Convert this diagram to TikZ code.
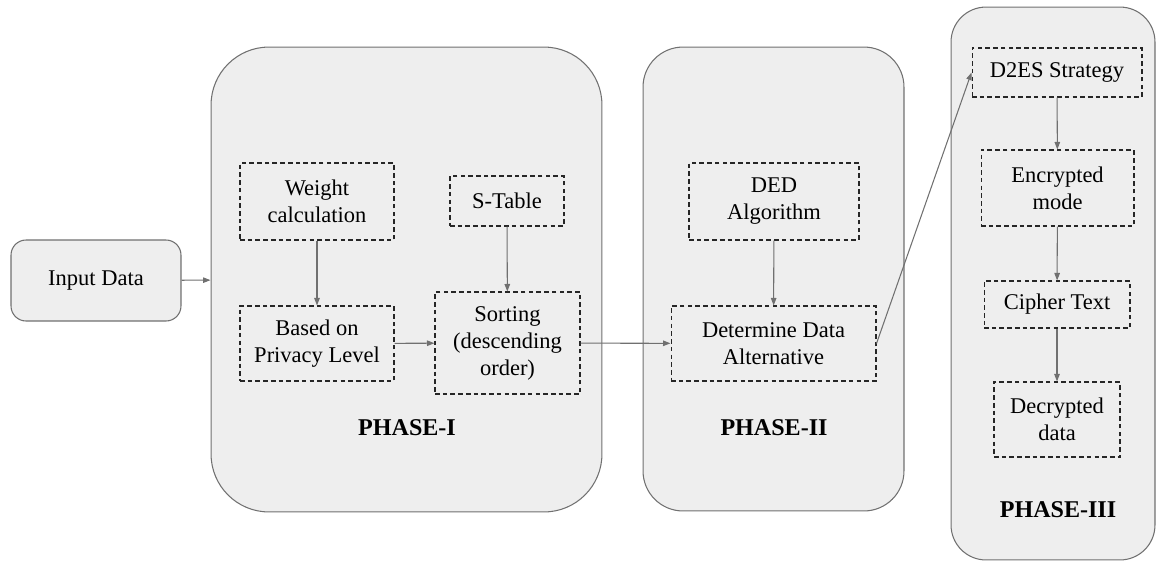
\documentclass[tikz,border=0pt]{standalone}
\usepackage{fontspec}
\setmainfont{LiberationSerif}[Extension=.ttf, UprightFont=*-Regular, BoldFont=*-Bold]
\usepackage{tikz}
\usetikzlibrary{arrows.meta,positioning}
\usepackage{xcolor}
\definecolor{boxgray}{HTML}{EEEEEE}
\definecolor{linegray}{HTML}{707070}

\tikzset{
  phase/.style={draw=linegray, line width=0.6pt, fill=boxgray, inner sep=0pt},
  stagebox/.style={draw=black!85, dashed, dash pattern=on 2.6pt off 1.8pt, line width=0.6pt,
    fill=boxgray, align=center, inner sep=0pt},
  flow/.style={draw=linegray, line width=0.6pt, -{Triangle[length=0.15cm,width=0.11cm]}},
  phaselabel/.style={font=\fontsize{13.7}{16}\selectfont\bfseries}
}

\begin{document}
\begin{tikzpicture}[x=0.02cm, y=-0.02cm, every node/.style={font=\fontsize{12.8}{15.4}\selectfont}]
    \useasboundingbox (0,0) rectangle (1156,562);

    % Input
    \node[phase, rounded corners=0.3cm, minimum width=3.4cm, minimum height=1.62cm] (input) at (96, 280.5) {Input Data};

    % Phase I
    \node[phase, rounded corners=1.16cm, minimum width=7.82cm, minimum height=9.3cm] (p1) at (406.5, 279.5) {};
    \node[stagebox, minimum width=3.08cm, minimum height=1.54cm] (weight) at (317, 201.5) {Weight\\calculation};
    \node[stagebox, minimum width=2.28cm, minimum height=1.0cm] (stable) at (507, 201) {S-Table};
    \node[stagebox, minimum width=3.08cm, minimum height=1.5cm] (privacy) at (317, 343.5) {Based on\\Privacy Level};
    \node[stagebox, minimum width=2.9cm, minimum height=2.04cm] (sorting) at (507.5, 343) {Sorting\\(descending\\order)};
    \node[phaselabel] (l1) at (407, 428) {PHASE-I};

    % Phase II
    \node[phase, rounded corners=0.8cm, minimum width=5.22cm, minimum height=9.28cm] (p2) at (773.5, 279) {};
    \node[stagebox, minimum width=3.4cm, minimum height=1.54cm] (ded) at (774, 201.5) {DED\\Algorithm};
    \node[stagebox, minimum width=4.1cm, minimum height=1.5cm] (determine) at (773.5, 343.5) {Determine Data\\Alternative};
    \node[phaselabel] (l2) at (774, 428) {PHASE-II};

    % Phase III
    \node[phase, rounded corners=0.7cm, minimum width=4.08cm, minimum height=11.06cm] (p3) at (1053, 283.5) {};
    \node[stagebox, minimum width=3.4cm, minimum height=0.98cm] (d2es) at (1057, 72.5) {D2ES Strategy};
    \node[stagebox, minimum width=3.06cm, minimum height=1.52cm] (encrypted) at (1057.5, 188) {Encrypted\\mode};
    \node[stagebox, minimum width=2.92cm, minimum height=0.94cm] (cipher) at (1057, 304.5) {Cipher Text};
    \node[stagebox, minimum width=2.52cm, minimum height=1.5cm] (decrypted) at (1057, 419.5) {Decrypted\\data};
    \node[phaselabel] (l3) at (1058, 510) {PHASE-III};

    \draw[flow] (input) -- (p1);
    \draw[flow] (weight) -- (privacy);
    \draw[flow] (stable) -- (sorting);
    \draw[flow] (privacy) -- (sorting);
    \draw[flow] (sorting) -- (determine);
    \draw[flow] (ded) -- (determine);
    \draw[flow] (determine.east) -- (d2es.west);
    \draw[flow] (d2es) -- (encrypted);
    \draw[flow] (encrypted) -- (cipher);
    \draw[flow] (cipher) -- (decrypted);
\end{tikzpicture}
\end{document}
